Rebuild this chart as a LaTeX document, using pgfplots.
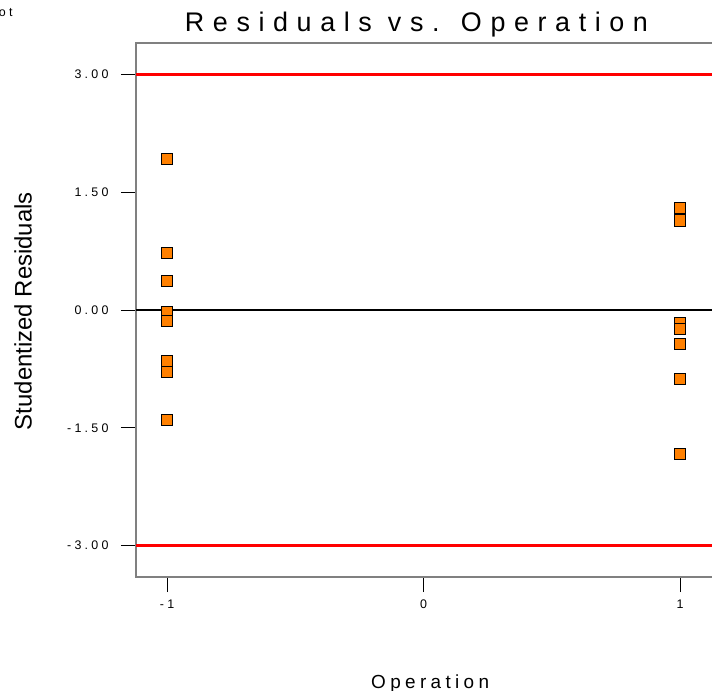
\documentclass[border=0pt]{standalone}
\usepackage{fontspec}
\setmainfont{Liberation Sans}
\newfontfamily\spacedT[LetterSpace=32]{Liberation Sans}
\newfontfamily\spacedK[LetterSpace=26]{Liberation Sans}
\newfontfamily\spacedX[LetterSpace=23]{Liberation Sans}
\usepackage{pgfplots}
\pgfplotsset{compat=1.18}
\definecolor{dxorange}{RGB}{255,128,0}
\definecolor{framegray}{RGB}{128,128,128}
\definecolor{dxred}{RGB}{255,0,0}
\begin{document}
\begin{tikzpicture}
\useasboundingbox (0,0) rectangle (712bp,691bp);
\clip (0,0) rectangle (712bp,691bp);
\begin{axis}[
  at={(136bp,114bp)}, anchor=south west,
  scale only axis,
  width=582.5bp, height=534bp,
  xmin=-1.121, xmax=1.15,
  ymin=-3.4, ymax=3.4,
  axis line style={framegray, line width=1.6bp},
  tick style={black, line width=0.9bp},
  major tick length=15bp,
  tick align=outside,
  xtick pos=left, ytick pos=left,
  xtick={-1,0,1}, xticklabels={-1,0,1},
  ytick={-3,-1.5,0,1.5,3}, yticklabels={-3.00,-1.50,0.00,1.50,3.00},
  yticklabel style={font=\spacedK\fontsize{12.5}{14}\selectfont, anchor=east, xshift=-9bp},
  xticklabel style={font=\spacedK\fontsize{12.5}{14}\selectfont, anchor=north, yshift=-4bp},
  title={Residuals vs. Operation},
  title style={font=\spacedT\fontsize{27}{30}\selectfont, at={(axis description cs:0.4815,1.011)}, anchor=base},
  xlabel={Operation},
  xlabel style={font=\spacedX\fontsize{19}{22}\selectfont, at={(axis description cs:0.505,-0.208)}, anchor=base},
  ylabel={Studentized Residuals},
  ylabel style={font=\fontsize{24}{28}\selectfont, at={(axis description cs:-0.194,0.498)}, anchor=center},
  clip=true,
]
\addplot[dxred, line width=2.2bp] coordinates {(-1.2,3) (1.2,3)};
\addplot[dxred, line width=2.2bp] coordinates {(-1.2,-3) (1.2,-3)};
\addplot[black, line width=1.8bp] coordinates {(-1.2,0) (1.2,0)};
\addplot[only marks, mark=square*, mark size=5.6bp,
  mark options={fill=dxorange, draw=black, line width=0.9bp}]
  coordinates {
  (-1,1.92) (-1,0.73) (-1,0.37) (-1,-0.02) (-1,-0.14) (-1,-0.65) (-1,-0.79) (-1,-1.40)
  (1,1.30) (1,1.14) (1,-0.16) (1,-0.24) (1,-0.43) (1,-0.88) (1,-1.83)
  };
\end{axis}
\node[font=\spacedK\fontsize{12.5}{14}\selectfont, anchor=base east] at (16bp,674bp) {Plot};
\end{tikzpicture}
\end{document}
